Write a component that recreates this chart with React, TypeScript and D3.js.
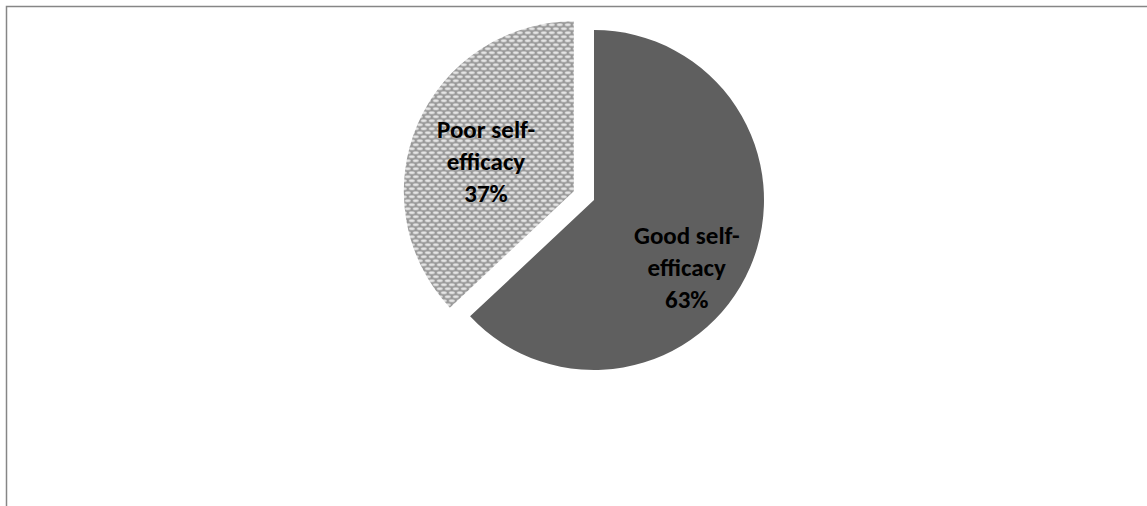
import React from "react";
import * as d3 from "d3";

const categories = ["Good self-efficacy", "Poor self-efficacy"];
const values = [63, 37];
const labelLines = [
  ["Good self-", "efficacy", "63%"],
  ["Poor self-", "efficacy", "37%"],
];

const W = 1147;
const H = 506;
const cx = 594;
const cy = 200;
const R = 170;
const explode = [0, 22];
const labelNudge = [
  [1, 28],
  [4, 10],
];
const fills = ["#5f5f5f", "url(#dots)"];

export default function App() {
  const pie = d3
    .pie<number>()
    .sort(null)
    .value((d) => d)
    .startAngle(0)
    .endAngle(2 * Math.PI);
  const arcs = pie(values);
  const arcGen = d3.arc<d3.PieArcDatum<number>>().innerRadius(0).outerRadius(R);
  const labelArc = d3.arc<d3.PieArcDatum<number>>().innerRadius(200).outerRadius(200);

  return (
    <svg
      width={W}
      height={H}
      style={{ position: "absolute", left: 0, top: 0, background: "#fff" }}
    >
      <defs>
        <pattern id="dots" width={8} height={8} patternUnits="userSpaceOnUse">
          <rect width={8} height={8} fill="#999999" />
          <ellipse cx={2} cy={1.5} rx={3} ry={1.3} fill="#ececec" />
          <ellipse cx={6} cy={5.5} rx={3} ry={1.3} fill="#ececec" />
          <ellipse cx={-2} cy={5.5} rx={3} ry={1.3} fill="#ececec" />
          <ellipse cx={10} cy={1.5} rx={3} ry={1.3} fill="#ececec" />
        </pattern>
      </defs>
      <path d={`M6.5,${H} V6.5 H${W}`} fill="none" stroke="#868686" strokeWidth={1.5} />
      {arcs.map((a, i) => {
        const mid = (a.startAngle + a.endAngle) / 2;
        const dx = Math.sin(mid) * explode[i];
        const dy = -Math.cos(mid) * explode[i];
        const [lx, ly] = labelArc.centroid(a);
        const k = 100 / 200;
        const tx = cx + dx + lx * k + labelNudge[i][0];
        const ty = cy + dy + ly * k + labelNudge[i][1];
        return (
          <g key={categories[i]}>
            <path
              d={arcGen(a) || ""}
              transform={`translate(${cx + dx},${cy + dy})`}
              fill={fills[i]}
            />
            <text
              x={tx}
              y={ty + 8}
              textAnchor="middle"
              fontFamily="Carlito, Lato, 'Open Sans', sans-serif"
              fontWeight="bold"
              fontSize={25}
              fill="#000"
            >
              {labelLines[i].map((t, j) => (
                <tspan key={j} x={tx} dy={j === 0 ? -32 : 32}>
                  {t}
                </tspan>
              ))}
            </text>
          </g>
        );
      })}
    </svg>
  );
}
